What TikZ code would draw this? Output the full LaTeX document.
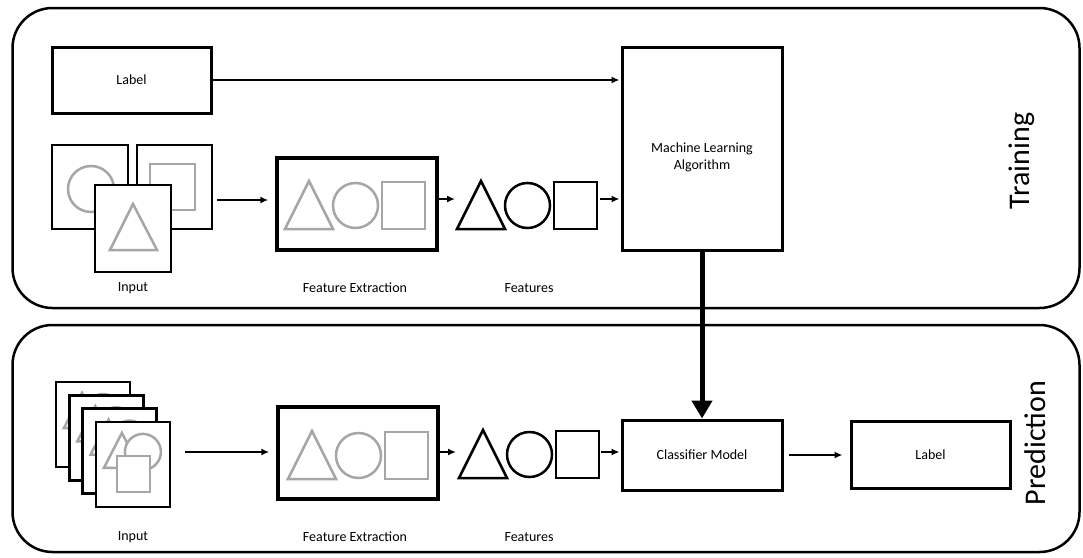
\documentclass[tikz,border=0pt]{standalone}
\usepackage{fontspec}
\setmainfont{Carlito}
\usetikzlibrary{arrows.meta}
\definecolor{shapegray}{RGB}{166,166,166}

\tikzset{
  box/.style={draw, line width=3pt, fill=white, inner sep=0pt, font=\fontsize{14}{17}\selectfont},
  frame/.style={draw, line width=2.5pt, fill=white, inner sep=0pt},
  panel/.style={draw, line width=2.5pt, rounded corners=40pt, inner sep=0pt},
  caption/.style={font=\fontsize{14}{17}\selectfont, inner sep=0pt},
  title/.style={font=\fontsize{30}{36}\selectfont, rotate=90, anchor=base, inner sep=0pt},
  arr/.style={line width=2pt, -{Latex[length=8pt,width=7pt]}, shorten >=1pt},
  ghost/.style={draw=shapegray, line width=2.5pt},
  pics/trio/.style={code={
    \draw[line width=2.5pt, draw=#1] (0,0) -- (24,-48) -- (48,0) -- cycle;
    \draw[line width=2.5pt, draw=#1] (70.5,-23.5) circle[radius=22.5pt];
    \draw[line width=2.5pt, draw=#1] (97,-47) rectangle (140,0);
  }}
}

\begin{document}
\begin{tikzpicture}[x=1pt,y=-1pt]
\useasboundingbox (0,0) rectangle (1083,557);
\node[panel, minimum width=1067pt, minimum height=300pt] (train) at (546,158) {};
\node[panel, minimum width=1067pt, minimum height=227pt] (pred) at (546,438.5) {};
\node[title] (trtxt) at (1029,161) {Training};
\node[title] (prtxt) at (1045,443) {Prediction};

\node[box, minimum width=159pt, minimum height=66pt] (lblA) at (131.5,80) {Label};
\node[box, minimum width=160pt, minimum height=203pt] (mla) at (702,148.5) {};
\node[caption, align=center] (mlatxt) at (702,157) {Machine Learning\\Algorithm};

\node[frame, minimum width=76pt, minimum height=84pt] (inA1) at (90,187) {};
\draw[ghost] (91,189) circle[radius=23pt];
\node[frame, minimum width=75pt, minimum height=84pt] (inA2) at (174.5,187) {};
\draw[ghost] (150,164) rectangle (195,210);
\node[frame, minimum width=76pt, minimum height=87pt] (inA3) at (133,228.5) {};
\draw[ghost] (110,250) -- (133,204) -- (157,250) -- cycle;
\node[caption] (inAtxt) at (133,288) {Input};
\coordinate (inAout) at (217,200);

\node[box, line width=3.5pt, minimum width=160pt, minimum height=92pt] (feA) at (357,204) {};
\pic at (285,229) {trio=shapegray};
\node[caption] (feAtxt) at (355,288) {Feature Extraction};
\pic at (457,229) {trio=black};
\coordinate (featAw) at (456,199);
\coordinate (featAe) at (600,199);
\node[caption] (featAtxt) at (529,288) {Features};

\draw[arr, shorten >=7pt] (inAout) -- (inAout -| feA.west);
\draw[arr] (feA.east |- featAw) -- (featAw);
\draw[arr] (featAe) -- (featAe -| mla.west);
\draw[arr] (lblA) -- (lblA -| mla.west);

\foreach \k in {0,...,3} {
  \begin{scope}[shift={(13.3*\k,13.3*\k)}]
    \node[frame, minimum width=74pt, minimum height=85pt] (inB\k) at (93,424.5) {};
    \draw[ghost] (64,428) -- (82,393) -- (100,428) -- cycle;
    \draw[ghost, fill=white] (103,412) circle[radius=18pt];
    \draw[ghost, fill=white] (77,416) rectangle (110,452);
  \end{scope}
}
\node[caption] (inBtxt) at (133,537) {Input};
\coordinate (inBout) at (185,452);

\node[box, line width=3.5pt, minimum width=160pt, minimum height=92pt] (feB) at (358,453) {};
\pic at (288,479) {trio=shapegray};
\node[caption] (feBtxt) at (355,537) {Feature Extraction};
\pic at (459,478) {trio=black};
\coordinate (featBw) at (457,452);
\coordinate (featBe) at (601,452);
\node[caption] (featBtxt) at (529,537) {Features};

\node[box, minimum width=160pt, minimum height=70pt] (clf) at (702,455) {Classifier Model};
\node[box, minimum width=159pt, minimum height=67pt] (lblB) at (930.5,455) {Label};

\draw[arr, shorten >=7pt] (inBout) -- (inBout -| feB.west);
\draw[arr] (feB.east |- featBw) -- (featBw);
\draw[arr] (featBe) -- (featBe -| clf.west);
\draw[arr, shorten <=5pt, shorten >=7pt] (clf) -- (lblB);
\draw[line width=5pt, -{Triangle[length=18pt,width=20pt]}] (mla) -- (clf);
\end{tikzpicture}
\end{document}
